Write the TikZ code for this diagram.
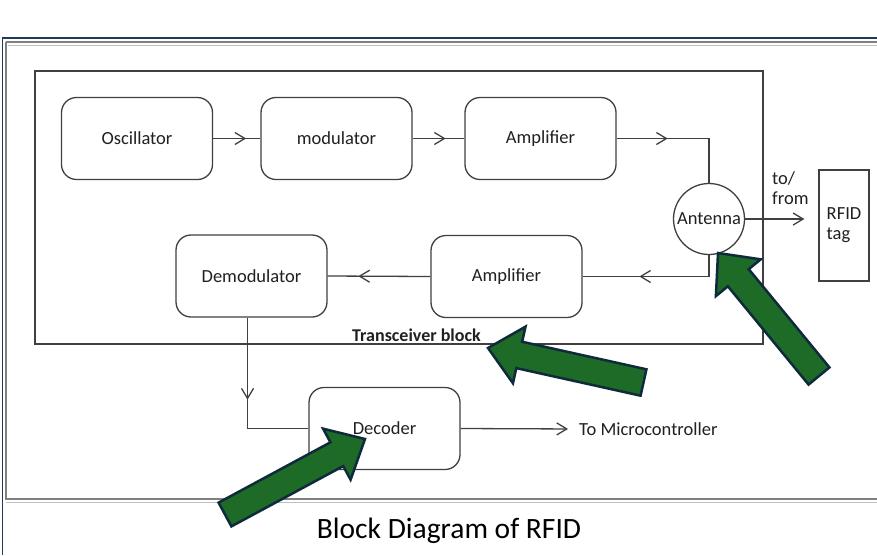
\documentclass[tikz,border=0pt]{standalone}
\usepackage{fontspec}
\setmainfont{Carlito}
\usetikzlibrary{arrows.meta,decorations.markings,calc}
\definecolor{boxline}{HTML}{404040}
\definecolor{txt}{HTML}{202020}
\definecolor{framegrey}{HTML}{808080}
\definecolor{framelight}{HTML}{C0C0C0}
\definecolor{navyline}{HTML}{1F3B5C}
\definecolor{arrowgreen}{HTML}{1E6A27}
\definecolor{arrownavy}{HTML}{0E2A3C}
\tikzset{
  lbl/.style={font=\fontsize{18.5}{20}\selectfont, text=txt},
  blk/.style={lbl, draw=boxline, line width=1.3pt, rounded corners=15pt,
    minimum width=151pt, minimum height=82pt},
  conn/.style={draw=boxline, line width=1.3pt},
  barb/.style={-{Straight Barb[length=10pt,width=12pt]}},
  midarrow/.style={postaction={decorate}, decoration={markings,
    mark=at position #1 with {\arrow{Straight Barb[length=10pt,width=12pt]}}}},
  garrow/.style={fill=arrowgreen, draw=arrownavy, line width=2.5pt, line join=miter},
}
\newcommand\greenarrow[2]{%
  \coordinate (hb) at ($(#2)!32pt!(#1)$);
  \filldraw[garrow] ($(#1)!13.5pt!90:(#2)$) -- ($(hb)!13.5pt!90:(#2)$)
    -- ($(hb)!29pt!90:(#2)$) -- (#2) -- ($(hb)!29pt!-90:(#2)$)
    -- ($(hb)!13.5pt!-90:(#2)$) -- ($(#1)!13.5pt!-90:(#2)$) -- cycle;
}
\begin{document}
\begin{tikzpicture}[x=1pt,y=-1pt]
\useasboundingbox[fill=white] (0,0) rectangle (877,555);
% outer frame
\draw[framegrey, line width=1.6pt] (6,42) -- (877,42);
\draw[framelight, line width=0.8pt] (8,45) -- (877,45);
\draw[framegrey, line width=1.6pt] (6,42) -- (6,499) -- (877,499);
\draw[framelight, line width=1pt] (6,502) -- (877,502);
\draw[navyline, line width=1.2pt] (2.5,555) -- (2.5,38) -- (877,38);
% transceiver block
\draw[boxline, line width=1.3pt] (35,71) rectangle (763,344);
\node[lbl, font=\fontsize{18}{20}\selectfont\bfseries, anchor=base west, inner sep=0pt] (tb) at (352,341) {Transceiver block};
% blocks
\node[blk] (osc) at (137,138.5) {Oscillator};
\node[blk] (mod) at (336.5,138.5) {modulator};
\node[blk] (amp1) at (540.5,138.5) {Amplifier};
\node[lbl, draw=boxline, circle, line width=1.3pt, minimum size=71pt, inner sep=0pt] (ant) at (709,219) {Antenna};
\node[lbl, draw=boxline, line width=1.3pt, minimum width=50pt, minimum height=111pt, inner sep=0pt, align=left] (tag) at (844,225.5) {RFID\\tag};
\node[lbl, align=left, anchor=west, inner sep=0pt] (tofrom) at (772,188) {to/\\from};
\node[blk] (amp2) at (506.5,276.5) {Amplifier};
\node[blk] (demod) at (251.5,276) {Demodulator};
\node[blk] (dec) at (384.5,428.5) {Decoder};
\node[lbl, anchor=west, inner sep=0pt] (micro) at (579,429) {To Microcontroller};
\node[font=\fontsize{29.5}{32}\selectfont, text=black] (cap) at (449,531) {Block Diagram of RFID};
% connectors
\draw[conn, midarrow=33pt] (osc) -- (mod);
\draw[conn, midarrow=33pt] (mod) -- (amp1);
\draw[conn, midarrow=51pt] (amp1.east) -| (ant.north);
\draw[conn, barb, shorten >=14pt] (ant.east) -- (ant.east -| tag.west);
\draw[conn, midarrow=91pt] (ant.south) |- (amp2.east);
\draw[conn, midarrow=72pt] (amp2.west) -- (demod.east);
\draw[conn, midarrow=82pt] ([xshift=-4pt]demod.south) |- (dec.west);
\draw[conn, barb, shorten >=11pt] (dec.east) -- (micro.west);
% green pointer arrows
\coordinate (g1tail) at (819,376); \coordinate (g1tip) at (718,253);
\coordinate (g2tail) at (643.5,382.5); \coordinate (g2tip) at (488,348);
\coordinate (g3tail) at (225,514.5); \coordinate (g3tip) at (365,439);
\greenarrow{g1tail}{g1tip}
\greenarrow{g2tail}{g2tip}
\greenarrow{g3tail}{g3tip}
\end{tikzpicture}
\end{document}
